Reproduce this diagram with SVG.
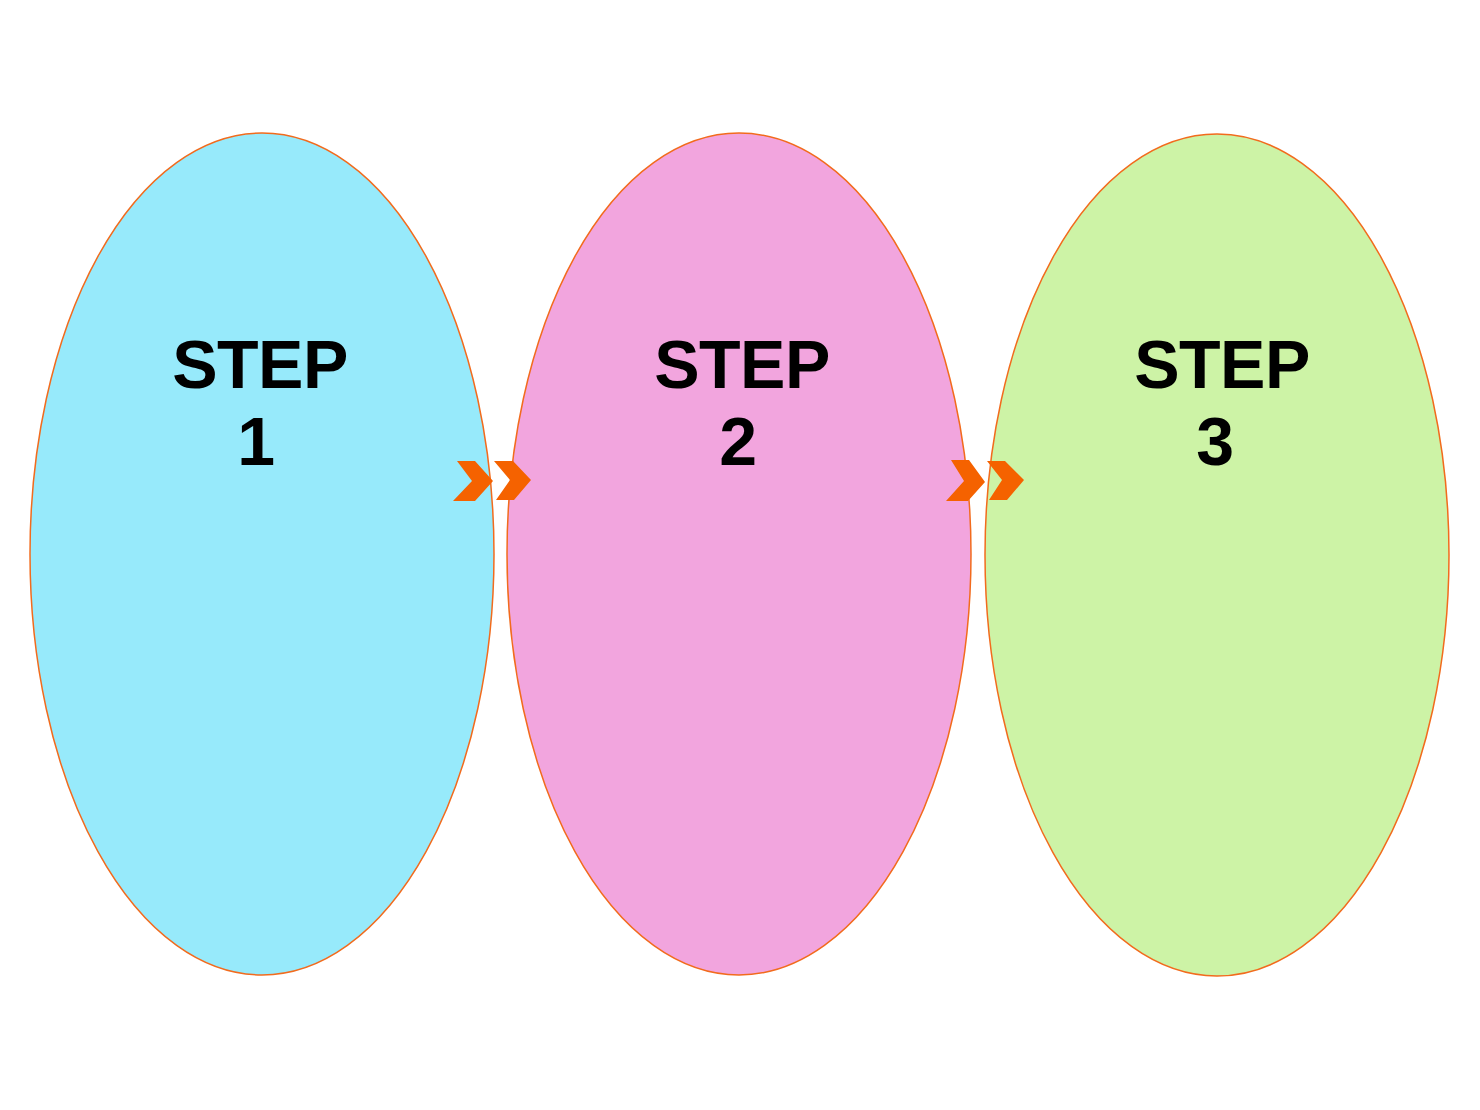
<svg xmlns="http://www.w3.org/2000/svg" width="1480" height="1110" viewBox="0 0 1480 1110">
<style>
.node{stroke:#F26B1D;stroke-width:1.5}
.lbl{font-family:"Liberation Sans",Arial,sans-serif;font-weight:bold;font-size:68px;fill:#000;text-anchor:middle;letter-spacing:-0.5px}
.chev{fill:#F56200}
</style>
<rect width="1480" height="1110" fill="#fff"/>
<g id="step1">
<ellipse class="node" cx="262" cy="554" rx="232" ry="421" fill="#97EAFB"/>
<text class="lbl"><tspan x="260" y="388">STEP</tspan><tspan x="256" y="465">1</tspan></text>
</g>
<g id="step2">
<ellipse class="node" cx="739" cy="554" rx="232" ry="421" fill="#F2A5DE"/>
<text class="lbl"><tspan x="742" y="388">STEP</tspan><tspan x="738" y="465">2</tspan></text>
</g>
<g id="step3">
<ellipse class="node" cx="1217" cy="555" rx="232" ry="421" fill="#CDF3A6"/>
<text class="lbl"><tspan x="1222" y="388">STEP</tspan><tspan x="1215" y="465">3</tspan></text>
</g>
<g id="connectors">
<polygon class="chev" points="457,461 475,461 493,481 475,501 453,501 472,481"/>
<polygon class="chev" points="494,461 513,461 531,480 514,500 496,500 510,480"/>
<polygon class="chev" points="951,460 969,460 985,482 968,501 946,501 964,481"/>
<polygon class="chev" points="987,461 1005,461 1024,480 1007,500 989,500 1002,480"/>
</g>
</svg>
